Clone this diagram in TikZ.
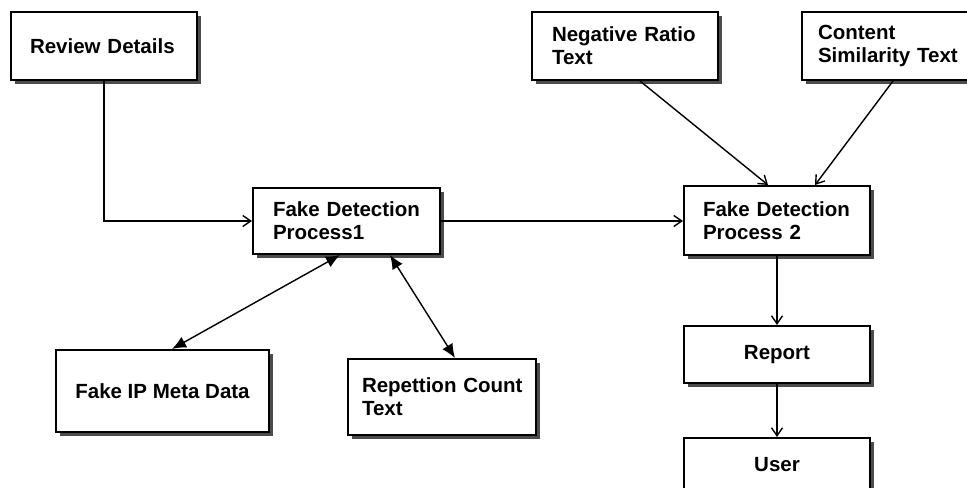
\documentclass[tikz,border=0pt]{standalone}
\usepackage{fontspec}
\setmainfont{Liberation Sans}
\usetikzlibrary{shadows,arrows.meta}
\begin{document}
\begin{tikzpicture}[x=0.5pt,y=-0.5pt,
        box/.style={draw, line width=1pt, fill=white, inner sep=0pt,
            drop shadow={shadow xshift=2pt, shadow yshift=-2pt, fill=black!70, opacity=1},
            font=\fontsize{10.25}{11.5}\selectfont\bfseries},
        line/.style={line width=0.7pt, -{Straight Barb[length=4pt,width=5.5pt]}},
        both/.style={line width=0.7pt, {Latex[length=7pt,width=6pt]}-{Latex[length=7pt,width=6pt]}}]
        \useasboundingbox (0,0) rectangle (967,487);
        % inputs
        \node[box, minimum width=93pt, minimum height=34pt, text width=74pt, align=left] (rev) at (104,46) {Review~Details};
        \node[box, minimum width=93pt, minimum height=34pt, text width=73pt, align=left] (neg) at (625,46) {Negative~Ratio\\Text};
        \node[box, minimum width=93pt, minimum height=34pt, text width=77pt, align=left] (cont) at (895,46) {Content\\Similarity~Text};
        % processes
        \node[box, minimum width=93.5pt, minimum height=33pt, text width=73.5pt, align=left] (fdp1) at (346.5,221) {Fake~Detection\\Process1};
        \node[box, minimum width=93pt, minimum height=34.5pt, text width=74pt, align=left] (fdp2) at (777,220.5) {Fake~Detection\\Process~2};
        \node[box, minimum width=106.5pt, minimum height=41pt, align=center] (ip) at (162.5,391) {Fake~IP~Meta~Data};
        \node[box, minimum width=94pt, minimum height=38pt, text width=80pt, align=left] (rep) at (442,397) {Repettion~Count\\Text};
        \node[box, minimum width=93pt, minimum height=28.5pt, align=center] (report) at (777,354.5) {Report};
        \node[box, minimum width=93pt, minimum height=27pt, align=center] (user) at (777,465) {User};

        \draw[line] (rev.south) |- (fdp1.west);
        \draw[line] (fdp1.east) -- (fdp1.east -| fdp2.west);
        \draw[line] ([xshift=7.5pt]neg.south) -- ([xshift=-4.5pt]fdp2.north);
        \draw[line] ([xshift=-1pt]cont.south) -- ([xshift=19pt]fdp2.north);
        \draw[line] (fdp2.south) -- (report.north);
        \draw[line] (report.south) -- (user.north);
        \draw[both] ([xshift=4.75pt]ip.north) -- ([xshift=-3.25pt]fdp1.south);
        \draw[both] ([xshift=6.5pt]rep.north) -- ([xshift=21.75pt]fdp1.south);
%        \draw[line] (rev) -- (fdp1);
    \end{tikzpicture}
\end{document}
